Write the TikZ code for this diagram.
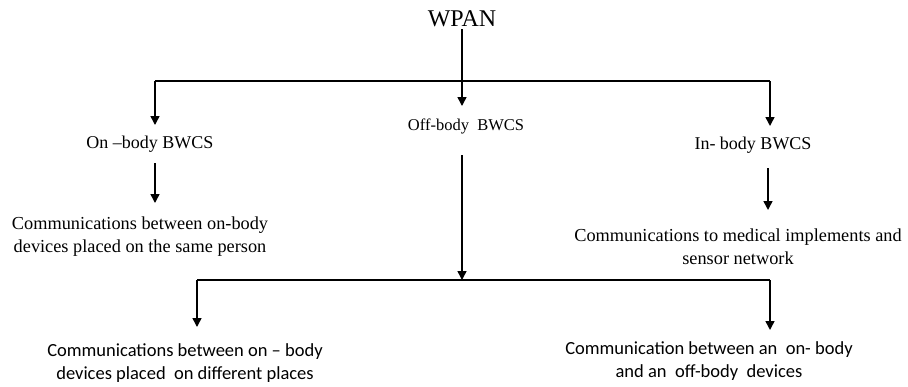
\documentclass[tikz,border=0pt]{standalone}
\usepackage{fontspec}
\setmainfont{Liberation Serif}
\newfontfamily\calib{Carlito}
\usepackage{tikz}
\usetikzlibrary{calc,positioning,arrows.meta}

\begin{document}
\begin{tikzpicture}[x=1pt, y=1pt,
  head/.style={font=\fontsize{24}{28}\selectfont, inner sep=2pt},
  kind/.style={font=\fontsize{18}{21}\selectfont, inner sep=2pt},
  desc/.style={font=\fontsize{18.3}{23}\selectfont, align=center, inner sep=2pt},
  sdesc/.style={font=\calib\fontsize{18.5}{23.5}\selectfont, align=center, inner sep=2pt},
  link/.style={line width=1.5pt},
  arr/.style={link, -{Triangle[length=9pt, width=9pt]}},
]
  \useasboundingbox (0,0) rectangle (908,-386);

  \node[head] (wpan) at (462,-19) {WPAN};

  % first level
  \coordinate (barl) at (155,-81);
  \coordinate (barr) at (770,-81);
  \node[kind] (on) at (150,-144) {On –body BWCS};
  \node[kind, font=\fontsize{16.5}{19}\selectfont] (off) at (466,-126) {Off-body~ BWCS};
  \node[kind] (in) at (753,-145) {In- body BWCS};

  \coordinate (offtip) at (462,-106);
  \draw[link] (barl) -- (barr);
  \draw[arr] (wpan.south) -- (offtip);
  \draw[arr] (barl) -- ++(0,-44);
  \draw[arr] (barr) -- ++(0,-45);

  % second level
  \node[desc] (onc) at (140,-237) {Communications between on-body\\devices placed on the same person};
  \node[desc] (inc) at (738,-247) {Communications to medical implements and\\sensor network};

  \coordinate (onst) at (155,-163);
  \coordinate (onend) at (155,-203);
  \coordinate (inst) at (768,-168);
  \coordinate (inend) at (768,-210);
  \draw[arr] (onst) -- (onend);
  \draw[arr] (inst) -- (inend);

  % off-body split
  \coordinate (offst) at (462,-155);
  \coordinate (bar2l) at (197,-280);
  \coordinate (bar2r) at (770,-280);
  \draw[arr] (offst) -- (offst |- bar2l);
  \draw[link] (bar2l) -- (bar2r);

  \node[sdesc] (diff) at (185,-363) {Communications between on – body\\devices placed~ on different places};
  \node[sdesc] (ext) at (709,-361) {Communication between an~ on- body\\and an~ off-body~ devices};

  \draw[arr] (bar2l) -- ++(0,-47);
  \draw[arr] (bar2r) -- ++(0,-50);
\end{tikzpicture}
\end{document}
